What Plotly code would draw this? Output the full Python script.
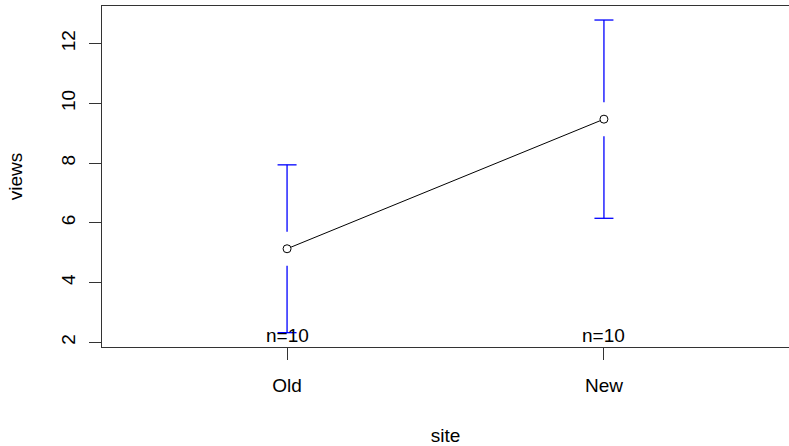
import plotly.graph_objects as go

categories = ["Old", "New"]
means = [5.13, 9.47]
ci_half = [2.81, 3.32]
counts = [10, 10]

W, H = 789, 446
ML, MR, MT, MB = 102, 0, 6, 99
x_range = [0.416, 2.584]
y_range = [1.84, 13.26]

plot_h = H - MT - MB
plot_w = W - ML - MR
px_per_y = plot_h / (y_range[1] - y_range[0])
px_per_x = plot_w / (x_range[1] - x_range[0])
gap = 17 / px_per_y
cap = 9.5 / px_per_x

xs = [i + 1 for i in range(len(categories))]

fig = go.Figure()

# connecting line
fig.add_trace(go.Scatter(x=xs, y=means, mode="lines",
                         line=dict(color="black", width=1), hoverinfo="skip"))

# error bars with gap around the mean
for x, m, c in zip(xs, means, ci_half):
    seg_x = [x, x, None, x, x, None, x - cap, x + cap, None, x - cap, x + cap]
    seg_y = [m + gap, m + c, None, m - gap, m - c, None, m + c, m + c, None, m - c, m - c]
    fig.add_trace(go.Scatter(x=seg_x, y=seg_y, mode="lines",
                             line=dict(color="#0000FF", width=1.3), hoverinfo="skip"))

# mean markers
fig.add_trace(go.Scatter(x=xs, y=means, mode="markers",
                         marker=dict(symbol="circle", size=8, color="white",
                                     line=dict(color="black", width=1)),
                         hoverinfo="skip"))

for x, n in zip(xs, counts):
    fig.add_annotation(x=x, y=0, xref="x", yref="paper", yanchor="bottom",
                       text=f"n={n}", showarrow=False, yshift=-1,
                       font=dict(size=19, color="black"))

fig.update_layout(
    width=W, height=H,
    margin=dict(l=ML, r=MR, t=MT, b=MB),
    plot_bgcolor="white", paper_bgcolor="white",
    showlegend=False,
    font=dict(family="Liberation Sans, Arial, sans-serif", size=19, color="black"),
)
fig.update_xaxes(
    range=x_range, tickvals=xs, ticktext=categories,
    showgrid=False, zeroline=False,
    showline=True, mirror=True, linecolor="#333333", linewidth=1,
    ticks="outside", ticklen=12, tickcolor="#333333",
    ticklabelstandoff=9,
    title=dict(text="site", standoff=36, font=dict(size=19)),
)
fig.update_yaxes(
    range=y_range, tickvals=[2, 4, 6, 8, 10, 12],
    showgrid=False, zeroline=False,
    showline=True, mirror=False, linecolor="#333333", linewidth=1,
    ticks="outside", ticklen=12, tickcolor="#333333",
    tickangle=-90, ticklabelstandoff=6,
    title=dict(text="views", standoff=30, font=dict(size=19)),
)

fig.write_html(
    "out.html",
    config={"displayModeBar": False},
    post_script="document.body.style.margin='0';document.body.style.overflow='hidden';",
)
